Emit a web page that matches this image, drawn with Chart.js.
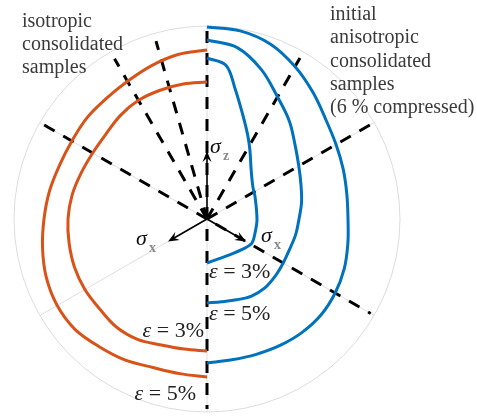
<!DOCTYPE html>
<html>
<head>
<meta charset="utf-8">
<script src="https://cdn.jsdelivr.net/npm/chart.js@4.4.0/dist/chart.umd.min.js"></script>
<style>
  html, body { margin: 0; padding: 0; background: #fff; }
</style>
</head>
<body>
<canvas id="chart-yield" width="477" height="416"></canvas>
<script>
// curves in the octahedral plane: angle (deg, from +x, counter-clockwise) and radius
iso_3_angle  = [90, 100, 110, 120, 130, 140, 150, 160, 170, 180, 190, 200, 210, 220, 230, 240, 250, 260, 270]
iso_3_radius = [137, 137, 137, 137, 135, 132, 132, 134, 137, 139, 140, 141, 141, 140, 141, 139, 134, 132, 132]

iso_5_angle  = [90, 100, 110, 120, 130, 140, 150, 160, 170, 180, 190, 200, 210, 220, 230, 240, 250, 260, 270]
iso_5_radius = [169, 167, 163, 159, 157, 157, 156, 157, 160, 163, 167, 171, 173, 172, 167, 163, 158, 157, 158]

aniso_3_angle  = [90, 83, 78, 71, 64, 58, 48, 35, 25, -1, -16, -28, -37, -60, -90]
aniso_3_radius = [161, 155, 134, 110, 93, 81, 66, 56, 53, 50, 50, 51, 48, 42, 44]

aniso_5_angle  = [90, 80, 70, 60, 50, 40, 30, 20, 10, 0, -10, -20, -30, -40, -50, -60, -70, -80, -90]
aniso_5_radius = [179, 174, 159, 141, 128, 115, 106, 100, 96, 92, 90, 88, 88, 89, 90, 89, 86, 84, 84]

aniso_outer_angle  = [90, 80, 70, 60, 50, 40, 30, 20, 10, 0, -10, -20, -30, -40, -50, -60, -70, -80, -90]
aniso_outer_radius = [192, 191, 186, 176, 165, 155, 149, 145, 142, 141, 143, 146, 148, 149, 148, 146, 144, 143, 144]

// loading paths (dashed) and reference axes
path_angle  = [106, 120, 30, 60]
path_length = [185, 185, 189, 186]
axis_angle  = [30, 90, 150]
circle_radius = 193

orange = 'rgb(217, 83, 25)'
blue = 'rgb(0, 114, 189)'
text_color = '#3a3a3a'
serif = '"Liberation Serif", "Times New Roman", serif'

function polar(a, r) {
    return { x: r * Math.cos(a * Math.PI / 180), y: r * Math.sin(a * Math.PI / 180) }
}

function polar_points(angles, radii) {
    return angles.map((a, i) => polar(a, radii[i]))
}

function curve(points, color) {
    return {
        data: points,
        showLine: true,
        borderColor: color,
        borderWidth: 3,
        pointRadius: 0,
        tension: 0.35,
        order: 1
    }
}

function dashed(points) {
    return {
        data: points,
        showLine: true,
        borderColor: '#000',
        borderWidth: 3,
        borderDash: [12, 10],
        pointRadius: 0,
        tension: 0,
        order: 2
    }
}

datasets = [
    curve(polar_points(iso_3_angle, iso_3_radius), orange),
    curve(polar_points(iso_5_angle, iso_5_radius), orange),
    curve(polar_points(aniso_3_angle, aniso_3_radius), blue),
    curve(polar_points(aniso_5_angle, aniso_5_radius), blue),
    curve(polar_points(aniso_outer_angle, aniso_outer_radius), blue),
    dashed([polar(90, 188), polar(270, 190)]),
    dashed([polar(150, 188), polar(330, 189)])
]
path_angle.forEach((a, i) => datasets.push(dashed([polar(a, 0), polar(a, path_length[i])])))
axis_angle.forEach(a => datasets.push({
    data: [polar(a, circle_radius), polar(a + 180, circle_radius)],
    showLine: true,
    borderColor: '#dedede',
    borderWidth: 1,
    pointRadius: 0,
    order: 3
}))

// outer reference circle under everything
frame_plugin = {
    id: 'frame',
    beforeDatasetsDraw(chart) {
        const ctx = chart.ctx, sx = chart.scales.x, sy = chart.scales.y
        const cx = sx.getPixelForValue(0), cy = sy.getPixelForValue(0)
        const r = sx.getPixelForValue(circle_radius) - cx
        ctx.save()
        ctx.strokeStyle = '#dcdcdc'
        ctx.lineWidth = 1
        ctx.beginPath()
        ctx.arc(cx, cy, r, 0, Math.PI * 2)
        ctx.stroke()
        ctx.restore()
    }
}

function arrow(ctx, x0, y0, x1, y1) {
    const ang = Math.atan2(y1 - y0, x1 - x0)
    const len = 11, half = 4.5, notch = 7
    ctx.beginPath()
    ctx.moveTo(x0, y0)
    ctx.lineTo(x1 - notch * Math.cos(ang), y1 - notch * Math.sin(ang))
    ctx.stroke()
    ctx.beginPath()
    ctx.moveTo(x1, y1)
    ctx.lineTo(x1 - len * Math.cos(ang) + half * Math.sin(ang), y1 - len * Math.sin(ang) - half * Math.cos(ang))
    ctx.lineTo(x1 - notch * Math.cos(ang), y1 - notch * Math.sin(ang))
    ctx.lineTo(x1 - len * Math.cos(ang) - half * Math.sin(ang), y1 - len * Math.sin(ang) + half * Math.cos(ang))
    ctx.closePath()
    ctx.fill()
}

function sigma(ctx, x, y, sub) {
    ctx.fillStyle = '#111'
    ctx.font = 'italic 22px ' + serif
    ctx.fillText('σ', x, y)
    ctx.fillStyle = '#8a8a8a'
    ctx.font = 'bold 14px ' + serif
    ctx.fillText(sub, x + 13, y + 7)
}

function strain_label(ctx, x, y, value, align) {
    ctx.fillStyle = '#222'
    const eps = 'ε', rest = ' = ' + value + '%'
    ctx.font = 'italic 22px ' + serif
    const w1 = ctx.measureText(eps).width
    ctx.font = '22px ' + serif
    const w2 = ctx.measureText(rest).width
    const left = align == 'right' ? x - w1 - w2 : x
    ctx.font = 'italic 22px ' + serif
    ctx.fillText(eps, left, y)
    ctx.font = '22px ' + serif
    ctx.fillText(rest, left + w1, y)
}

labels_plugin = {
    id: 'labels',
    afterDatasetsDraw(chart) {
        const ctx = chart.ctx, sx = chart.scales.x, sy = chart.scales.y
        const px = p => [sx.getPixelForValue(p.x), sy.getPixelForValue(p.y)]
        const [cx, cy] = px({ x: 0, y: 0 })
        ctx.save()
        ctx.strokeStyle = '#000'
        ctx.fillStyle = '#000'
        ctx.lineWidth = 1.6
        const tz = px(polar(90, 68)), tl = px(polar(210, 45)), tr = px(polar(330, 45))
        arrow(ctx, cx, cy, tz[0], tz[1])
        arrow(ctx, cx, cy, tl[0], tl[1])
        arrow(ctx, cx, cy, tr[0], tr[1])

        ctx.textBaseline = 'alphabetic'
        sigma(ctx, 210, 153, 'z')
        sigma(ctx, 136, 245, 'x')
        sigma(ctx, 261, 242, 'x')

        strain_label(ctx, 209, 278, 3, 'left')
        strain_label(ctx, 209, 320, 5, 'left')
        strain_label(ctx, 204, 337, 3, 'right')
        strain_label(ctx, 196, 400, 5, 'right')

        ctx.fillStyle = text_color
        ctx.font = '20px ' + serif
        ;['isotropic', 'consolidated', 'samples'].forEach((t, i) => ctx.fillText(t, 22, 27 + i * 23))
        ;['initial', 'anisotropic', 'consolidated', 'samples', '(6 % compressed)']
            .forEach((t, i) => ctx.fillText(t, 330, 20 + i * 23.3))
        ctx.restore()
    }
}

yield_chart = new Chart(document.getElementById('chart-yield').getContext('2d'), {
    type: 'scatter',
    data: { datasets: datasets },
    options: {
        responsive: false,
        animation: false,
        layout: { padding: 0 },
        plugins: {
            legend: { display: false },
            tooltip: { enabled: false }
        },
        scales: {
            x: { type: 'linear', min: -207, max: 270, display: false },
            y: { type: 'linear', min: -197, max: 219, display: false }
        }
    },
    plugins: [frame_plugin, labels_plugin]
})
</script>
</body>
</html>
